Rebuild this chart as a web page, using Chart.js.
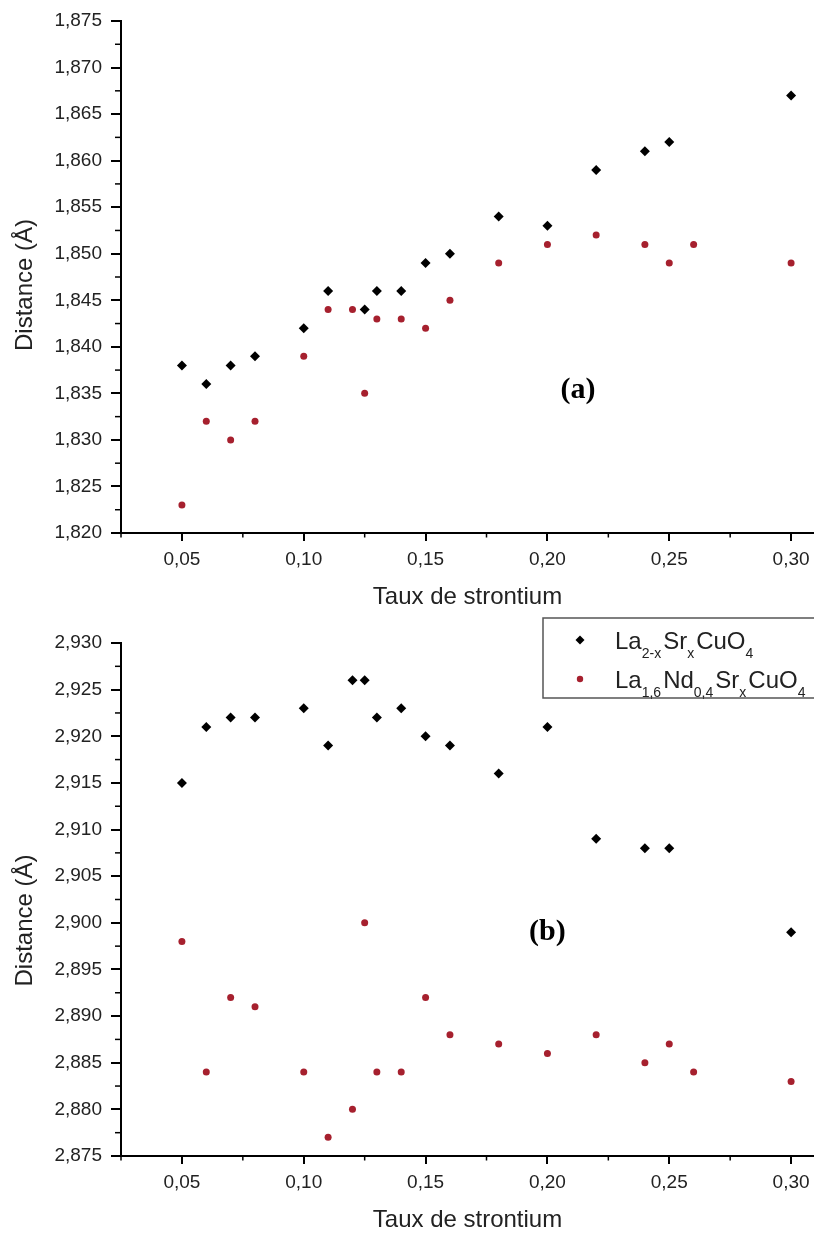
<!DOCTYPE html>
<html><head><meta charset="utf-8">
<script src="https://cdn.jsdelivr.net/npm/chart.js@4.4.1/dist/chart.umd.min.js"></script>
<style>
html,body{margin:0;padding:0;background:#fff;overflow:hidden;width:814px;height:1235px}
#wrap{position:absolute;left:0;top:0;width:814px;height:1235px;overflow:hidden}
#c1{position:absolute;left:0;top:0}
#c2{position:absolute;left:0;top:615px}
</style></head><body>
<div id="wrap">
<canvas id="c1" width="820" height="615"></canvas>
<canvas id="c2" width="820" height="620"></canvas>
</div>
<script>
// ---- data ----
const seriesNames = ['La2-xSrxCuO4', 'La1,6Nd0,4SrxCuO4'];
const legendParts = [
  [['La',0],['2-x',1],['Sr',0],['x',1],['CuO',0],['4',1]],
  [['La',0],['1,6',1],['Nd',0],['0,4',1],['Sr',0],['x',1],['CuO',0],['4',1]]
];
// panel (a)
const xBlackA = [0.05,0.06,0.07,0.08,0.10,0.11,0.125,0.13,0.14,0.15,0.16,0.18,0.20,0.22,0.24,0.25,0.30];
const yBlackA = [1.838,1.836,1.838,1.839,1.842,1.846,1.844,1.846,1.846,1.849,1.850,1.854,1.853,1.859,1.861,1.862,1.867];
const xRedA = [0.05,0.06,0.07,0.08,0.10,0.11,0.12,0.125,0.13,0.14,0.15,0.16,0.18,0.20,0.22,0.24,0.25,0.26,0.30];
const yRedA = [1.823,1.832,1.830,1.832,1.839,1.844,1.844,1.835,1.843,1.843,1.842,1.845,1.849,1.851,1.852,1.851,1.849,1.851,1.849];
// panel (b)
const xBlackB = [0.05,0.06,0.07,0.08,0.10,0.11,0.12,0.125,0.13,0.14,0.15,0.16,0.18,0.20,0.22,0.24,0.25,0.30];
const yBlackB = [2.915,2.921,2.922,2.922,2.923,2.919,2.926,2.926,2.922,2.923,2.920,2.919,2.916,2.921,2.909,2.908,2.908,2.899];
const xRedB = [0.05,0.06,0.07,0.08,0.10,0.11,0.12,0.125,0.13,0.14,0.15,0.16,0.18,0.20,0.22,0.24,0.25,0.26,0.30];
const yRedB = [2.898,2.884,2.892,2.891,2.884,2.877,2.880,2.900,2.884,2.884,2.892,2.888,2.887,2.886,2.888,2.885,2.887,2.884,2.883];
// ticks
const xTicks = [0.05,0.10,0.15,0.20,0.25,0.30];
const yTicksA = [1.820,1.825,1.830,1.835,1.840,1.845,1.850,1.855,1.860,1.865,1.870,1.875];
const yTicksB = [2.875,2.880,2.885,2.890,2.895,2.900,2.905,2.910,2.915,2.920,2.925,2.930];
const xTitle = 'Taux de strontium';
const yTitle = 'Distance (Å)';

// ---- styling ----
const SANS = '"Liberation Sans", Arial, sans-serif';
const BLACK = '#000000';
const RED = '#a6202e';

function pts(xs, ys){ return xs.map((x,i)=>({x:x, y:ys[i]})); }

const minorTicks = {
  id: 'minorTicks',
  afterDraw(chart){
    const ctx = chart.ctx;
    ctx.save();
    ctx.strokeStyle = '#000';
    ctx.lineWidth = 1.5;
    ['x','y'].forEach(id=>{
      const s = chart.scales[id];
      const vals = s.ticks.map(t=>t.value);
      const step = vals[1]-vals[0];
      const minors = [];
      minors.push(vals[0]-step/2);
      for (let i=0;i<vals.length;i++) minors.push(vals[i]+step/2);
      minors.forEach(v=>{
        if (v < s.min - 1e-9 || v > s.max + 1e-9) return;
        const p = s.getPixelForValue(v);
        ctx.beginPath();
        if (id==='x'){ ctx.moveTo(p, s.top); ctx.lineTo(p, s.top+4.5); }
        else { ctx.moveTo(s.right, p); ctx.lineTo(s.right-6, p); }
        ctx.stroke();
      });
    });
    ctx.restore();
  }
};

const yTitlePlugin = {
  id: 'yTitlePlugin',
  afterDraw(chart, args, opts){
    const {ctx, chartArea} = chart;
    ctx.save();
    ctx.translate(opts.x, (chartArea.top + chartArea.bottom)/2 + opts.shift);
    ctx.rotate(-Math.PI/2);
    ctx.font = '24px ' + SANS;
    ctx.fillStyle = '#222';
    ctx.textAlign = 'center';
    ctx.textBaseline = 'middle';
    ctx.fillText(yTitle, 0, 0);
    ctx.restore();
  }
};

const panelLabel = {
  id: 'panelLabel',
  afterDraw(chart, args, opts){
    const {ctx} = chart;
    const x = chart.scales.x.getPixelForValue(opts.x);
    const y = chart.scales.y.getPixelForValue(opts.y);
    ctx.save();
    ctx.font = 'bold 30px "Liberation Serif", "Times New Roman", serif';
    ctx.fillStyle = '#000';
    ctx.textAlign = 'center';
    ctx.textBaseline = 'middle';
    ctx.fillText(opts.text, x, y);
    ctx.restore();
  }
};

const subLegend = {
  id: 'subLegend',
  afterDraw(chart, args, opts){
    if (!opts.show) return;
    const {ctx} = chart;
    ctx.save();
    ctx.strokeStyle = '#555';
    ctx.lineWidth = 1.5;
    ctx.fillStyle = '#fff';
    ctx.fillRect(opts.left, opts.top, opts.width, opts.height);
    ctx.strokeRect(opts.left, opts.top, opts.width, opts.height);
    chart.data.datasets.forEach((ds, i)=>{
      const cy = opts.top + opts.rowTop + i*opts.rowH;
      ctx.fillStyle = ds.backgroundColor;
      Chart.helpers.drawPoint(ctx, {pointStyle: ds.pointStyle, radius: opts.markerR[i], borderWidth: 0}, opts.left + opts.markerX, cy);
      let x = opts.left + opts.textX;
      const base = cy + 9;
      ctx.fillStyle = '#222';
      ctx.textAlign = 'left';
      ctx.textBaseline = 'alphabetic';
      legendParts[i].forEach(([t, sub])=>{
        ctx.font = sub ? ('14px ' + SANS) : ('24px ' + SANS);
        ctx.fillText(t, x, sub ? base + 9 : base);
        x += ctx.measureText(t).width + (sub ? 2 : 0);
      });
    });
    ctx.restore();
  }
};

function makeChart(canvasId, cfg){
  const tickFont = {family: SANS, size: 19};
  const titleFont = {family: SANS, size: 24};
  return new Chart(document.getElementById(canvasId), {
    type: 'scatter',
    data: {
      datasets: [
        {label: seriesNames[0], data: pts(cfg.xb, cfg.yb), pointStyle: 'rectRot', pointRadius: 5, backgroundColor: BLACK, borderWidth: 0},
        {label: seriesNames[1], data: pts(cfg.xr, cfg.yr), pointStyle: 'circle', pointRadius: 3.5, backgroundColor: RED, borderWidth: 0}
      ]
    },
    options: {
      responsive: false,
      animation: false,
      events: [],
      layout: {autoPadding: false, padding: {top: cfg.padTop, left: 0, right: 6, bottom: 0}},
      scales: {
        x: {
          type: 'linear', min: 0.025, max: 0.3094,
          afterBuildTicks: s => { s.ticks = xTicks.map(v=>({value:v})); },
          afterFit: s => { s.height = cfg.xAxisH; },
          ticks: {callback: v => v.toFixed(2).replace('.', ','), font: tickFont, color: '#222', padding: 7, maxRotation: 0, autoSkip: false},
          grid: {drawOnChartArea: false, tickLength: 8, color: '#000', lineWidth: 2},
          border: {color: '#000', width: 2},
          title: {display: true, text: xTitle, font: titleFont, color: '#222', padding: {top: 0, bottom: cfg.xTitlePad}}
        },
        y: {
          type: 'linear', min: cfg.yTicks[0], max: cfg.yTicks[cfg.yTicks.length-1],
          afterBuildTicks: s => { s.ticks = cfg.yTicks.map(v=>({value:v})); },
          afterFit: s => { s.width = 121; },
          ticks: {callback: v => v.toFixed(3).replace('.', ','), font: tickFont, color: '#222', padding: 9, autoSkip: false},
          grid: {drawOnChartArea: false, tickLength: 10, color: '#000', lineWidth: 2},
          border: {color: '#000', width: 2},
          title: {display: false}
        }
      },
      plugins: {
        legend: {display: false},
        tooltip: {enabled: false},
        panelLabel: cfg.label,
        subLegend: cfg.legend,
        yTitlePlugin: {x: 25, shift: cfg.yTitleShift}
      }
    },
    plugins: [minorTicks, panelLabel, subLegend, yTitlePlugin]
  });
}

makeChart('c1', {
  xb: xBlackA, yb: yBlackA, xr: xRedA, yr: yRedA, yTicks: yTicksA,
  padTop: 21, xAxisH: 82, xTitlePad: 3, yTitleShift: 8,
  label: {text: '(a)', x: 0.2125, y: 1.8353},
  legend: {show: false}
});
makeChart('c2', {
  xb: xBlackB, yb: yBlackB, xr: xRedB, yr: yRedB, yTicks: yTicksB,
  padTop: 28, xAxisH: 79, xTitlePad: 0, yTitleShift: 21,
  label: {text: '(b)', x: 0.2, y: 2.899},
  legend: {show: true, left: 543, top: 3, width: 300, height: 80, rowTop: 22, rowH: 39, markerX: 37, textX: 72, markerR: [4.5, 3.2]}
});
</script>
</body></html>
